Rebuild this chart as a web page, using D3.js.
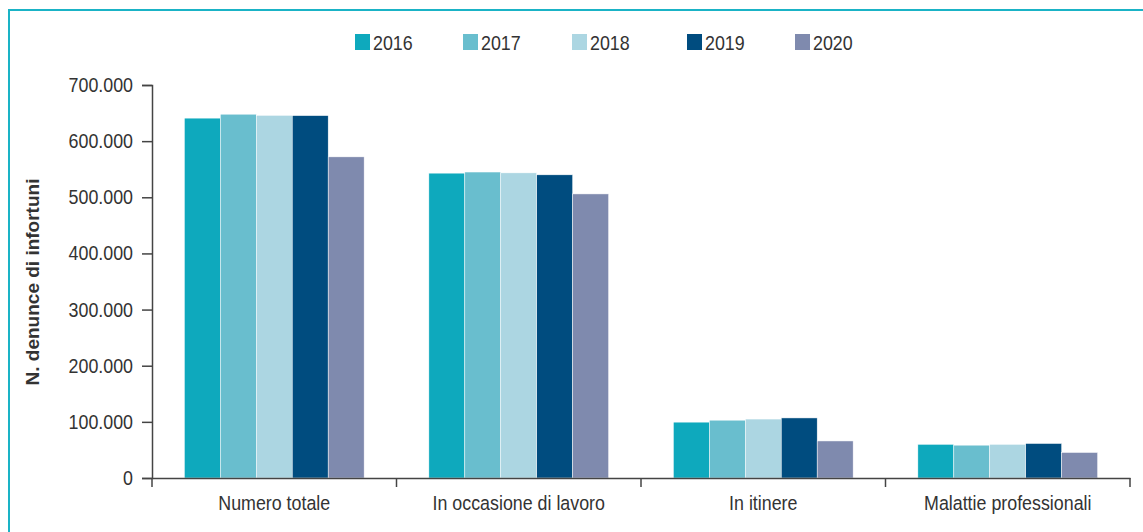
<!doctype html>
<html>
<head>
<meta charset="utf-8">
<script src="https://cdn.jsdelivr.net/npm/d3@7"></script>
<style>
  body { margin: 0; background: #fff; }
  text { font-family: "Liberation Sans", Arial, sans-serif; fill: #333; }
</style>
</head>
<body>
<script>
// data
var categories = ["Numero totale", "In occasione di lavoro", "In itinere", "Malattie professionali"];
var years = ["2016", "2017", "2018", "2019", "2020"];
var colors = ["#0ea9bd", "#69bece", "#acd6e2", "#004c7f", "#7f8aae"];
var values2016 = [641000, 543000, 99500, 60000];
var values2017 = [648000, 545000, 103000, 58500];
var values2018 = [646000, 543500, 105000, 60000];
var values2019 = [645500, 540000, 107000, 61500];
var values2020 = [572000, 506000, 66000, 45500];
var series = [values2016, values2017, values2018, values2019, values2020];
var yTicks = [0, 100000, 200000, 300000, 400000, 500000, 600000, 700000];

var W = 1143, H = 532;
var K = 0.87; // horizontal squeeze to mimic the condensed face
var svg = d3.select("body").append("svg").attr("width", W).attr("height", H);

function condense(sel) {
  sel.each(function() {
    var t = d3.select(this);
    var x = +t.attr("x") || 0;
    t.attr("x", x / K).attr("transform", "scale(" + K + ",1)");
  });
}

// frame (top + left lines)
svg.append("path")
  .attr("d", "M9,532 L9,10 L1143,10")
  .attr("fill", "none")
  .attr("stroke", "#1ab3c6")
  .attr("stroke-width", 2);

var it = d3.formatLocale({decimal: ",", thousands: ".", grouping: [3], currency: ["", ""]});
var fmt = it.format(",");

var x0 = d3.scaleBand().domain(categories).range([152, 1130]).padding(0);
var x1 = d3.scaleBand().domain(years).range([0, x0.bandwidth()]).paddingInner(0).paddingOuter(0.9);
var y = d3.scaleLinear().domain([0, 700000]).range([478, 85]);

// bars
var groups = svg.append("g").selectAll("g")
  .data(categories).enter().append("g")
  .attr("transform", function(d) { return "translate(" + x0(d) + ",0)"; });

groups.selectAll("rect")
  .data(function(d, i) { return years.map(function(yr, j) { return {yr: yr, j: j, v: series[j][i]}; }); })
  .enter().append("rect")
  .attr("x", function(d) { return x1(d.yr); })
  .attr("width", x1.bandwidth())
  .attr("y", function(d) { return y(d.v); })
  .attr("height", function(d) { return y(0) - y(d.v); })
  .attr("fill", function(d) { return colors[d.j]; })
  .attr("stroke", "#fff")
  .attr("stroke-width", 0.5);

// y axis
var yAxis = svg.append("g")
  .attr("transform", "translate(152,0)")
  .call(d3.axisLeft(y).tickValues(yTicks).tickFormat(fmt).tickSize(10).tickPadding(9));
yAxis.select(".domain").attr("stroke", "#444").attr("stroke-width", 1.5);
yAxis.selectAll(".tick line").attr("stroke", "#444").attr("stroke-width", 1.5);
yAxis.selectAll("text").style("font-size", "20.5px").attr("fill", "#333").call(condense);

// x axis
var xAxis = svg.append("g")
  .attr("transform", "translate(0,478)")
  .call(d3.axisBottom(x0).tickSize(0).tickPadding(17));
xAxis.select(".domain").attr("stroke", "#444").attr("stroke-width", 1.5);
xAxis.selectAll("text").style("font-size", "20.5px").attr("fill", "#333").call(condense);
xAxis.selectAll(".sep")
  .data(d3.range(categories.length + 1)).enter().append("line")
  .attr("x1", function(i) { return 152 + i * x0.step(); })
  .attr("x2", function(i) { return 152 + i * x0.step(); })
  .attr("y1", 0).attr("y2", 9)
  .attr("stroke", "#444").attr("stroke-width", 1.5);

// y title
svg.append("text")
  .attr("transform", "translate(39,282) rotate(-90)")
  .attr("text-anchor", "middle")
  .style("font-size", "19px")
  .style("font-weight", "bold")
  .text("N. denunce di infortuni");

// legend
var legendX = [355, 463, 572, 687, 795];
var legend = svg.append("g").selectAll("g")
  .data(years).enter().append("g")
  .attr("transform", function(d, i) { return "translate(" + legendX[i] + ",34)"; });
legend.append("rect").attr("width", 15).attr("height", 16)
  .attr("fill", function(d, i) { return colors[i]; });
legend.append("text").attr("x", 18).attr("y", 16)
  .style("font-size", "20.5px")
  .text(function(d) { return d; })
  .call(condense);
</script>
</body>
</html>
